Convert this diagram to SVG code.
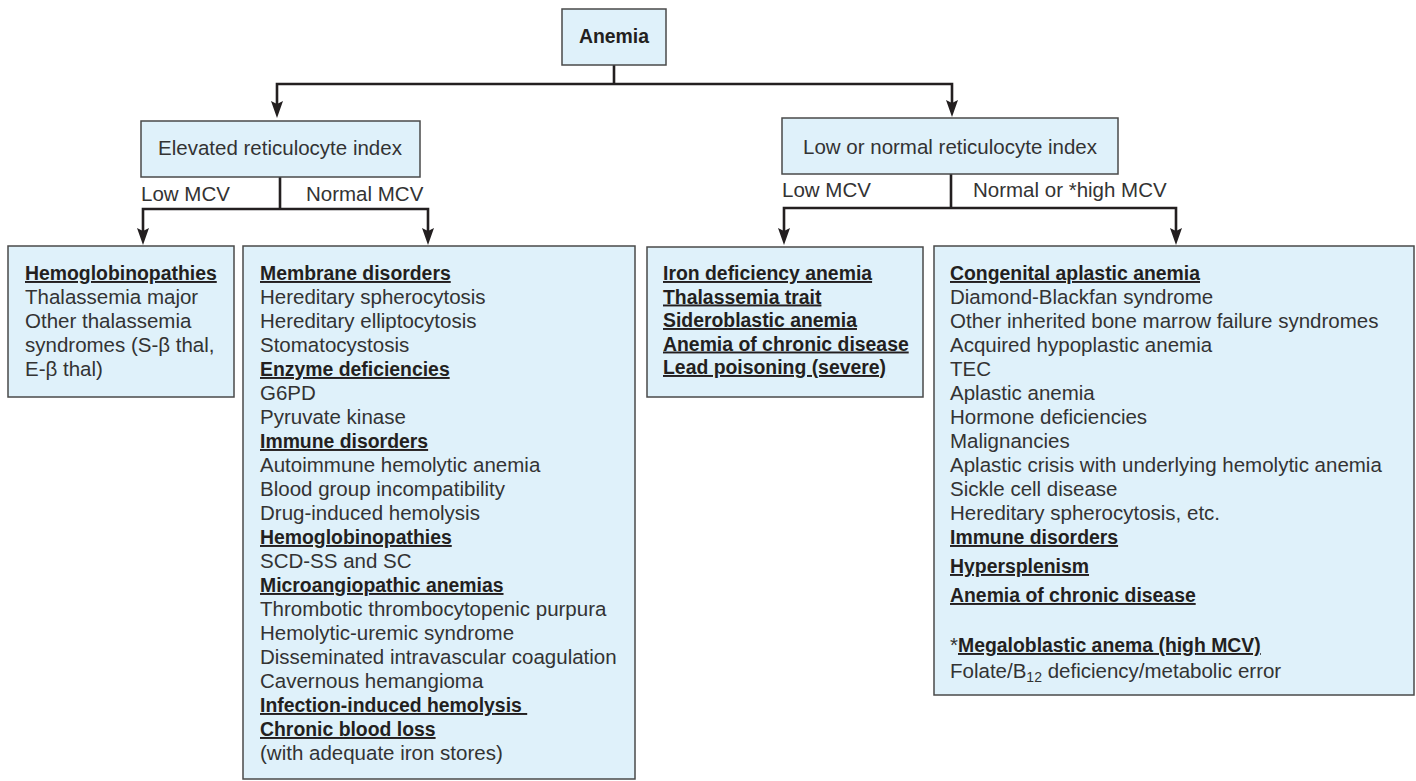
<svg xmlns="http://www.w3.org/2000/svg" width="1416" height="781" viewBox="0 0 1416 781">
<style>
.box{fill:#dff1fa;stroke:#4a4a4a;stroke-width:1.5}
.t{font-family:"Liberation Sans",Arial,sans-serif;font-size:20.5px;fill:#333}
.b{font-family:"Liberation Sans",Arial,sans-serif;font-weight:700;font-size:19.4px;fill:#231f20}
.u{text-decoration:underline}
.c{stroke:#231f20;stroke-width:2.6;fill:none}
.m{text-anchor:middle}
</style>
<defs>
<marker id="ah" markerUnits="userSpaceOnUse" viewBox="0 0 17 12" markerWidth="17" markerHeight="12" refX="9" refY="6" orient="auto">
<path d="M0,0 L17,6 L0,12 L3,6 Z" fill="#231f20"/>
</marker>
</defs>
<rect width="1416" height="781" fill="#fff"/>
<g id="connectors">
<path class="c" d="M614,65 V84"/>
<path class="c" d="M614,84 H277 V110" marker-end="url(#ah)"/>
<path class="c" d="M614,84 H952 V109" marker-end="url(#ah)"/>
<path class="c" d="M280,177 V209"/>
<path class="c" d="M280,209 H143 V237" marker-end="url(#ah)"/>
<path class="c" d="M280,209 H428 V237" marker-end="url(#ah)"/>
<path class="c" d="M951,174 V208"/>
<path class="c" d="M951,208 H784 V237" marker-end="url(#ah)"/>
<path class="c" d="M951,208 H1176 V237" marker-end="url(#ah)"/>
<text class="t" x="141" y="201">Low MCV</text>
<text class="t" x="306" y="201">Normal MCV</text>
<text class="t" x="782" y="197">Low MCV</text>
<text class="t" x="973" y="197">Normal or *high MCV</text>
</g>
<g id="anemia">
<rect class="box" x="562" y="9" width="104" height="56"/>
<text class="b m" x="614" y="43">Anemia</text>
</g>
<g id="elevated">
<rect class="box" x="141" y="121" width="279" height="56"/>
<text class="t m" x="280" y="155">Elevated reticulocyte index</text>
</g>
<g id="lownormal">
<rect class="box" x="782" y="118" width="336" height="56"/>
<text class="t m" x="950" y="154">Low or normal reticulocyte index</text>
</g>
<g id="hemoglobinopathies">
<rect class="box" x="8" y="246" width="226" height="151"/>
<text class="b u" x="25" y="280">Hemoglobinopathies</text>
<text class="t" x="25" y="304">Thalassemia major</text>
<text class="t" x="25" y="328">Other thalassemia</text>
<text class="t" x="25" y="352">syndromes (S-β thal,</text>
<text class="t" x="25" y="376">E-β thal)</text>
</g>
<g id="normalmcv">
<rect class="box" x="243" y="246" width="392" height="533"/>
<text class="b u" x="260" y="280">Membrane disorders</text>
<text class="t" x="260" y="304">Hereditary spherocytosis</text>
<text class="t" x="260" y="328">Hereditary elliptocytosis</text>
<text class="t" x="260" y="352">Stomatocystosis</text>
<text class="b u" x="260" y="376">Enzyme deficiencies</text>
<text class="t" x="260" y="400">G6PD</text>
<text class="t" x="260" y="424">Pyruvate kinase</text>
<text class="b u" x="260" y="448">Immune disorders</text>
<text class="t" x="260" y="472">Autoimmune hemolytic anemia</text>
<text class="t" x="260" y="496">Blood group incompatibility</text>
<text class="t" x="260" y="520">Drug-induced hemolysis</text>
<text class="b u" x="260" y="544">Hemoglobinopathies</text>
<text class="t" x="260" y="568">SCD-SS and SC</text>
<text class="b u" x="260" y="592">Microangiopathic anemias</text>
<text class="t" x="260" y="616">Thrombotic thrombocytopenic purpura</text>
<text class="t" x="260" y="640">Hemolytic-uremic syndrome</text>
<text class="t" x="260" y="664">Disseminated intravascular coagulation</text>
<text class="t" x="260" y="688">Cavernous hemangioma</text>
<text class="b u" x="260" y="712">Infection-induced hemolysis&#160;</text>
<text class="b u" x="260" y="736">Chronic blood loss</text>
<text class="t" x="260" y="760">(with adequate iron stores)</text>
</g>
<g id="lowmcv">
<rect class="box" x="647" y="247" width="276" height="150"/>
<text class="b u" x="663" y="280">Iron deficiency anemia</text>
<text class="b u" x="663" y="303.5">Thalassemia trait</text>
<text class="b u" x="663" y="327">Sideroblastic anemia</text>
<text class="b u" x="663" y="350.5">Anemia of chronic disease</text>
<text class="b u" x="663" y="374">Lead poisoning (severe)</text>
</g>
<g id="highmcv">
<rect class="box" x="934" y="246" width="480" height="449"/>
<text class="b u" x="950" y="280">Congenital aplastic anemia</text>
<text class="t" x="950" y="304">Diamond-Blackfan syndrome</text>
<text class="t" x="950" y="328">Other inherited bone marrow failure syndromes</text>
<text class="t" x="950" y="352">Acquired hypoplastic anemia</text>
<text class="t" x="950" y="376">TEC</text>
<text class="t" x="950" y="400">Aplastic anemia</text>
<text class="t" x="950" y="424">Hormone deficiencies</text>
<text class="t" x="950" y="448">Malignancies</text>
<text class="t" x="950" y="472">Aplastic crisis with underlying hemolytic anemia</text>
<text class="t" x="950" y="496">Sickle cell disease</text>
<text class="t" x="950" y="520">Hereditary spherocytosis, etc.</text>
<text class="b u" x="950" y="544">Immune disorders</text>
<text class="b u" x="950" y="573">Hypersplenism</text>
<text class="b u" x="950" y="602">Anemia of chronic disease</text>
<text class="t" x="950" y="652">*<tspan class="b u">Megaloblastic anema (high MCV)</tspan></text>
<text class="t" x="950" y="678">Folate/B<tspan font-size="14" dy="4">12</tspan><tspan dy="-4"> deficiency/metabolic error</tspan></text>
</g>
</svg>
